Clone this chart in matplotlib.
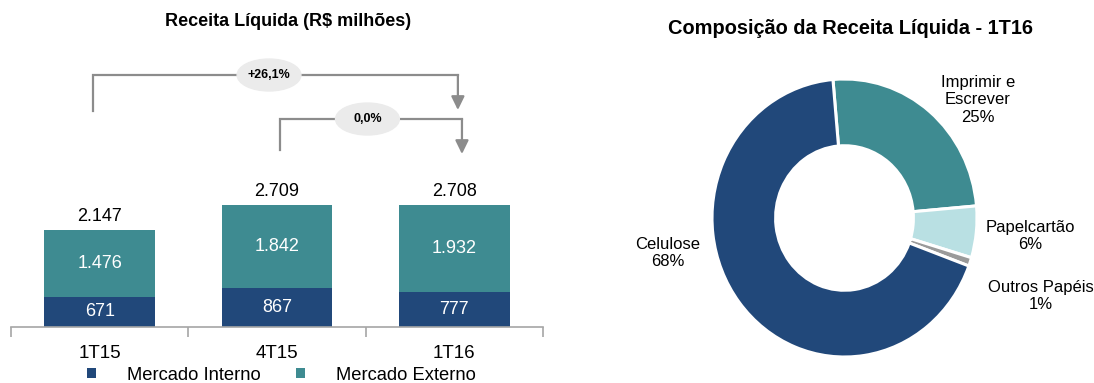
import matplotlib
matplotlib.use("Agg")
import matplotlib.pyplot as plt
from matplotlib.patches import Ellipse

plt.rcParams["font.family"] = ["Liberation Sans", "DejaVu Sans"]

# Receita líquida por trimestre (R$ milhões)
quarters = ["1T15", "4T15", "1T16"]
mercado_interno = [671, 867, 777]
mercado_externo = [1476, 1842, 1932]
totals = [2147, 2709, 2708]
variations = ["+26,1%", "0,0%"]

# Composição da receita líquida - 1T16 (ordem horária a partir do topo)
segments = ["Imprimir e\nEscrever", "Papelcartão", "Outros Papéis", "Celulose"]
shares = [25, 6, 1, 68]

NAVY = "#21487a"
TEAL = "#3e8b91"
LIGHT = "#b9e0e3"
GREY = "#9a9a9a"
LINE = "#8c8c8c"

W, H = 1094, 383
fig = plt.figure(figsize=(W / 100, H / 100), dpi=100)


def fig_xy(x, y):
    return x / W, 1 - y / H


def fmt(v):
    return f"{v:,}".replace(",", ".")


# ---- stacked bars ----
ax = fig.add_axes([11 / W, 1 - 327 / H, 532 / W, 282 / H])
ax.set_xlim(-0.5, 2.5)
ax.set_ylim(0, 6267)
x = range(len(quarters))
bw = 0.625
b1 = ax.bar(x, mercado_interno, bw, color=NAVY, label="Mercado Interno")
b2 = ax.bar(x, mercado_externo, bw, bottom=mercado_interno, color=TEAL,
            label="Mercado Externo")

for i in x:
    mi, me = mercado_interno[i], mercado_externo[i]
    ax.text(i, mi / 2, fmt(mi), ha="center", va="center", color="white", fontsize=13)
    ax.text(i, mi + me / 2, fmt(me), ha="center", va="center", color="white", fontsize=13)
    ax.text(i, mi + me + 110, fmt(totals[i]), ha="center", va="bottom", fontsize=13)

for s in ["top", "right", "left"]:
    ax.spines[s].set_visible(False)
ax.spines["bottom"].set_color("#a6a6a6")
ax.spines["bottom"].set_linewidth(1.2)
ax.set_yticks([])
ax.set_xticks(list(x))
ax.set_xticklabels(quarters, fontsize=13.5)
ax.tick_params(axis="x", which="major", length=0, pad=13)
ax.set_xticks([-0.5, 0.5, 1.5, 2.5], minor=True)
ax.tick_params(axis="x", which="minor", length=7, color="#a6a6a6", width=1.2)


def bracket(x0, x1, y_top, y_left, y_tip, label, lx):
    ax.plot([x0, x0, x1], [y_left, y_top, y_top], color=LINE, lw=1.6,
            solid_joinstyle="miter", zorder=2)
    ax.annotate("", xy=(x1, y_tip), xytext=(x1, y_top),
                arrowprops=dict(arrowstyle="-|>,head_length=0.45,head_width=0.22",
                                color=LINE, lw=1.6, shrinkA=0, shrinkB=0,
                                mutation_scale=18), zorder=2)
    ax.add_patch(Ellipse((lx, y_top), 0.36, 710, color="#ebebeb", zorder=3,
                         clip_on=False))
    ax.text(lx, y_top, label, ha="center", va="center", fontsize=9,
            fontweight="bold", zorder=4)


bracket(-0.038, 2.02, 5600, 4810, 4822, variations[0], 0.955)
bracket(1.017, 2.043, 4622, 3933, 3844, variations[1], 1.51)

fig.text(*fig_xy(288, 22), "Receita Líquida (R$ milhões)", ha="center",
         va="center", fontsize=13, fontweight="bold")

fig.legend(handles=[b1, b2], loc="center left", bbox_to_anchor=fig_xy(87, 375),
           ncol=2, frameon=False, fontsize=13.2, handlelength=0.5,
           handleheight=0.5, handletextpad=1.7, columnspacing=1.9,
           borderpad=0, borderaxespad=0)

# ---- donut ----
pax = fig.add_axes([712 / W, 1 - 357 / H, 265 / W, 278 / H])
pax.pie(shares, colors=[TEAL, LIGHT, GREY, NAVY], startangle=95,
        counterclock=False, radius=1,
        wedgeprops=dict(width=0.48, edgecolor="white", linewidth=2.2))
pax.set_xlim(-1, 1)
pax.set_ylim(-1, 1)
pax.set_aspect("auto")
pax.axis("off")

label_pos = [(978, 100), (1030, 236), (1041, 296), (668, 253)]
for name, share, (lx, ly) in zip(segments, shares, label_pos):
    fig.text(*fig_xy(lx, ly), f"{name}\n{share}%", ha="center", va="center",
             fontsize=12, linespacing=1.2)

fig.text(*fig_xy(850, 28), "Composição da Receita Líquida - 1T16", ha="center",
         va="center", fontsize=14.4, fontweight="bold")

fig.savefig("out.png", dpi=100)
